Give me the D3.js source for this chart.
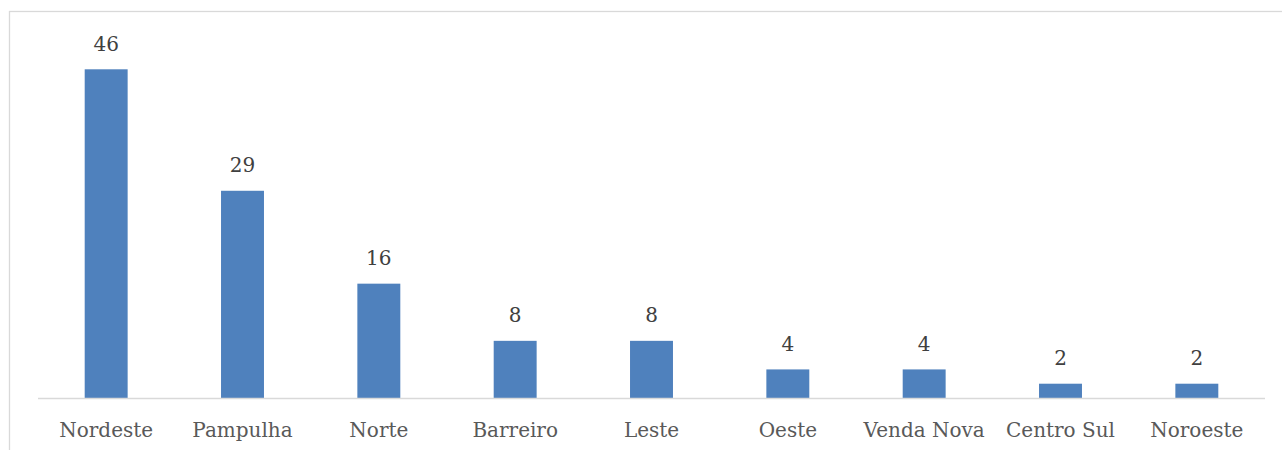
<!DOCTYPE html>
<html>
<head>
<meta charset="utf-8">
<script src="https://cdn.jsdelivr.net/npm/d3@7"></script>
<style>
  html, body { margin: 0; padding: 0; background: #fff; }
  svg { display: block; }
</style>
</head>
<body>
<svg id="chart" width="1282" height="450"></svg>
<script>
const categories = ["Nordeste", "Pampulha", "Norte", "Barreiro", "Leste", "Oeste", "Venda Nova", "Centro Sul", "Noroeste"];
const values = [46, 29, 16, 8, 8, 4, 4, 2, 2];

const svg = d3.select("#chart");
const W = 1282, H = 450;

// chart area border (extends past right/bottom edges)
svg.append("rect")
  .attr("x", 9.5).attr("y", 11.5)
  .attr("width", 1290).attr("height", 460)
  .attr("fill", "#fff")
  .attr("stroke", "#d9d9d9")
  .attr("stroke-width", 1.3);

const x0 = 38, x1 = 1265, yBase = 398;

const x = d3.scaleBand()
  .domain(categories)
  .range([x0, x1])
  .paddingInner(0.685)
  .paddingOuter(0.3425);

const y = d3.scaleLinear()
  .domain([0, 46])
  .range([yBase, 69.3]);

// bars
svg.append("g").selectAll("rect")
  .data(categories)
  .join("rect")
  .attr("x", d => x(d))
  .attr("y", (d, i) => y(values[i]))
  .attr("width", x.bandwidth())
  .attr("height", (d, i) => yBase - y(values[i]))
  .attr("fill", "#4f81bd");

// value labels
svg.append("g").selectAll("text")
  .data(categories)
  .join("text")
  .attr("x", d => x(d) + x.bandwidth() / 2)
  .attr("y", (d, i) => y(values[i]) - 18.5)
  .attr("text-anchor", "middle")
  .attr("font-family", "'DejaVu Serif', serif")
  .attr("font-size", 20)
  .attr("fill", "#404040")
  .text((d, i) => values[i]);

// x axis
const xAxis = d3.axisBottom(x).tickSize(0).tickPadding(0);
const gx = svg.append("g")
  .attr("transform", `translate(0,${yBase})`)
  .call(xAxis);
gx.select(".domain")
  .attr("d", `M${x0},0.5H${x1}`)
  .attr("stroke", "#d9d9d9")
  .attr("stroke-width", 1.5);
gx.selectAll(".tick text")
  .attr("y", 38.7)
  .attr("dy", null)
  .attr("font-family", "'DejaVu Serif', serif")
  .attr("font-size", 20)
  .attr("fill", "#595959");
</script>
</body>
</html>
